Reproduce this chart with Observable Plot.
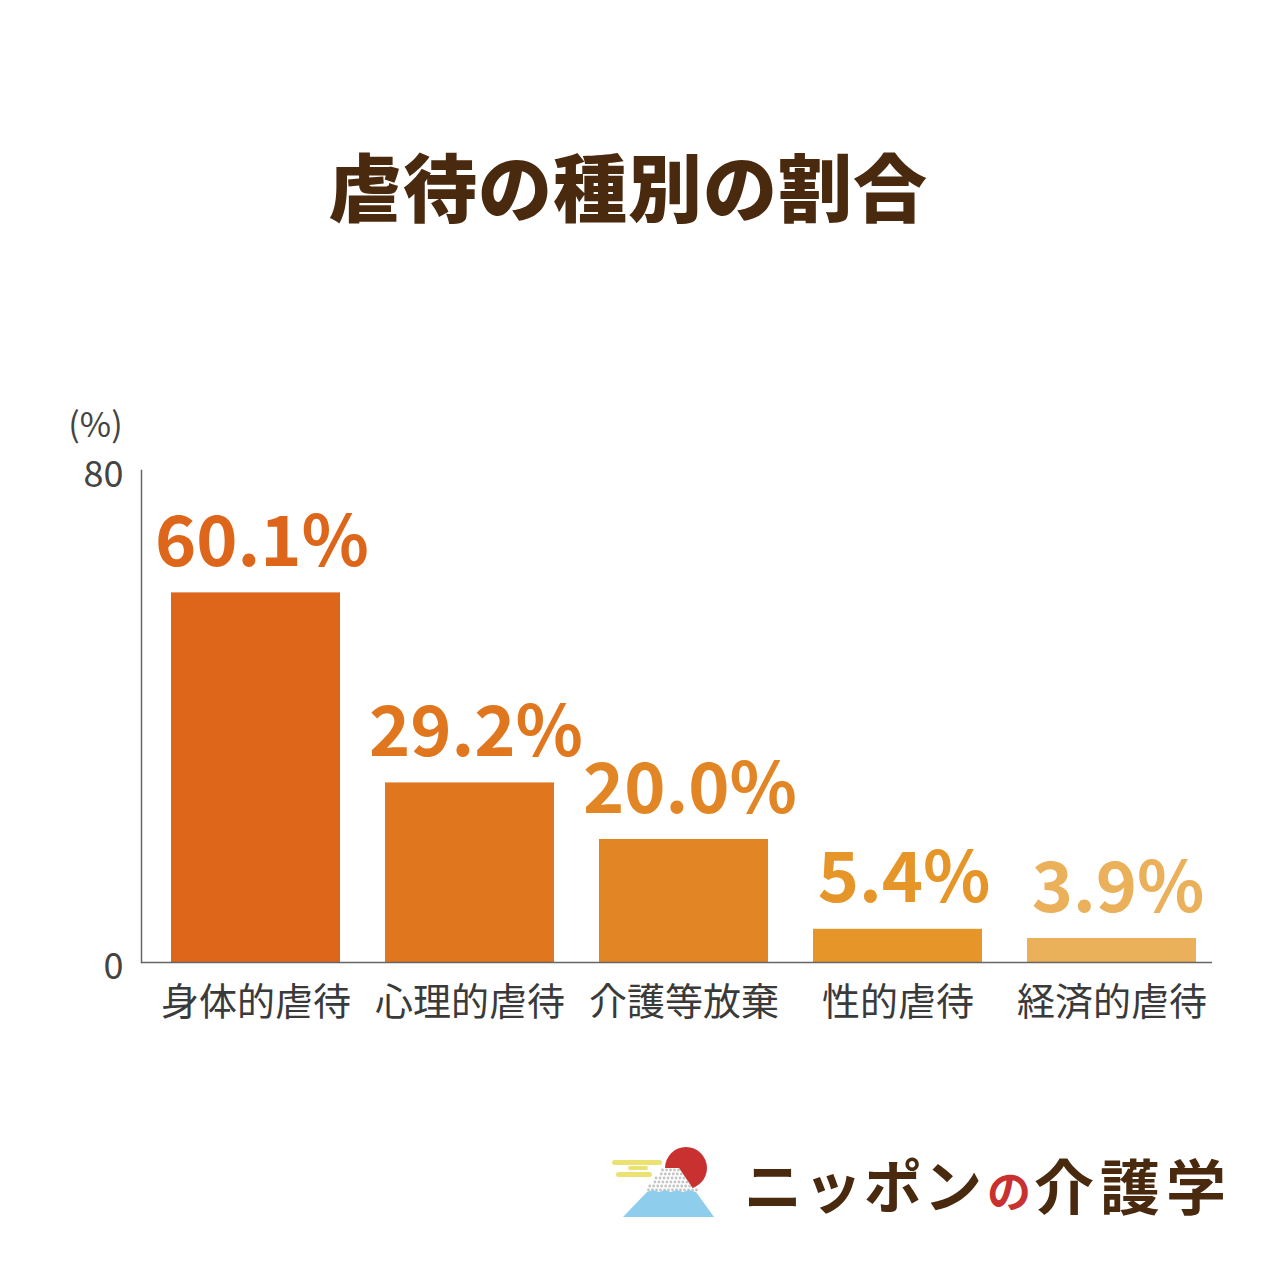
<!DOCTYPE html>
<html>
<head>
<meta charset="utf-8">
<script src="https://cdn.jsdelivr.net/npm/d3@7"></script>
<script src="https://cdn.jsdelivr.net/npm/@observablehq/plot@0.6"></script>
<style>
  html, body { margin: 0; padding: 0; background: #fff; }
  #page { position: relative; width: 1280px; height: 1280px; font-family: "Noto Sans CJK JP", "Noto Sans", sans-serif; overflow: hidden; }
  #title { position: absolute; left: 0; width: 1256px; top: 130px; text-align: center; font-size: 74px; font-weight: 900; color: #4a2a0e; letter-spacing: 1px; }
  #chart { position: absolute; left: 0; top: 360px; }
  #logo { position: absolute; left: 600px; top: 1130px; }
</style>
</head>
<body>
<div id="page">
  <div id="title">虐待の種別の割合</div>
  <div id="chart"></div>
  <svg id="logo" width="640" height="100" viewBox="600 1130 640 100">
    <g fill="#ece272">
      <rect x="612" y="1160" width="50" height="5" rx="2.5"/>
      <rect x="628" y="1166" width="20" height="4" rx="2"/>
      <rect x="616" y="1172" width="36" height="5" rx="2.5"/>
    </g>
    <circle cx="686" cy="1168" r="21" fill="#c93131"/>
    <polygon points="662,1168 679,1168 698,1196 645,1196" fill="#ffffff"/>
    <g fill="#c4c4c4" id="dots"></g>
    <polygon points="647,1192 653,1190 659,1192 665,1190 671,1192 677,1190 683,1192 689,1190 696,1192 714,1217 623,1217" fill="#8ecdec"/>
    <text x="744" y="1208" font-size="58" font-weight="700" fill="#4a2a0e" font-family="Noto Sans CJK JP" letter-spacing="2">ニッポン</text>
    <text x="987" y="1208" font-size="44" font-weight="700" fill="#c93131" font-family="Noto Sans CJK JP">の</text>
    <text x="1034" y="1210" font-size="60" font-weight="700" fill="#4a2a0e" font-family="Noto Sans CJK JP" letter-spacing="6">介護学</text>
  </svg>
</div>
<script>
// ---- data ----
const categories = ["身体的虐待", "心理的虐待", "介護等放棄", "性的虐待", "経済的虐待"];
const values = [60.1, 29.2, 20.0, 5.4, 3.9];
const colors = ["#de661b", "#e0761e", "#e28524", "#e69628", "#eab05a"];
const yTicks = [0, 80];
const unitLabel = "(%)";

const data = categories.map((c, i) => ({category: c, value: values[i]}));

const chart = Plot.plot({
  width: 1280,
  height: 690,
  marginTop: 110,
  marginBottom: 88,
  marginLeft: 141,
  marginRight: 68,
  style: {fontFamily: "'Noto Sans CJK JP', sans-serif", background: "transparent"},
  x: {domain: categories, paddingInner: 0.21, paddingOuter: 0, insetLeft: 29, insetRight: 15, label: null},
  y: {domain: [0, 80], label: null},
  color: {domain: categories, range: colors},
  marks: [
    Plot.barY(data, {x: "category", y: "value", fill: "category"}),
    Plot.frame({anchor: "left", stroke: "#666", strokeWidth: 1.5}),
    Plot.ruleY([0], {stroke: "#666", strokeWidth: 1.5}),
    Plot.axisY({ticks: yTicks, tickSize: 0, tickPadding: 18, fontSize: 36, fill: "#444", label: null, dy: 5}),
    Plot.axisX({tickSize: 0, tickPadding: 26, fontSize: 38, fill: "#3a3a3a", label: null}),
    Plot.text(data, {x: "category", y: "value", text: d => d.value.toFixed(1) + "%", fill: "category",
      fontSize: 70, fontWeight: 700, lineAnchor: "bottom", dy: -27, dx: 6}),
    Plot.text([unitLabel], {frameAnchor: "top-left", lineAnchor: "middle", dx: -46, dy: -44, fontSize: 34, fill: "#444", textAnchor: "middle"})
  ]
});
document.getElementById("chart").appendChild(chart);

// snowcap dots for logo
const dots = document.getElementById("dots");
for (let r = 0; r < 6; r++) {
  const y = 1170 + r * 4;
  const half = 8 + r * 3.2;
  for (let x = 670.5 - half; x <= 670.5 + half; x += 4) {
    const c = document.createElementNS("http://www.w3.org/2000/svg", "circle");
    c.setAttribute("cx", x + (r % 2) * 2);
    c.setAttribute("cy", y);
    c.setAttribute("r", 1.4);
    dots.appendChild(c);
  }
}
</script>
</body>
</html>
